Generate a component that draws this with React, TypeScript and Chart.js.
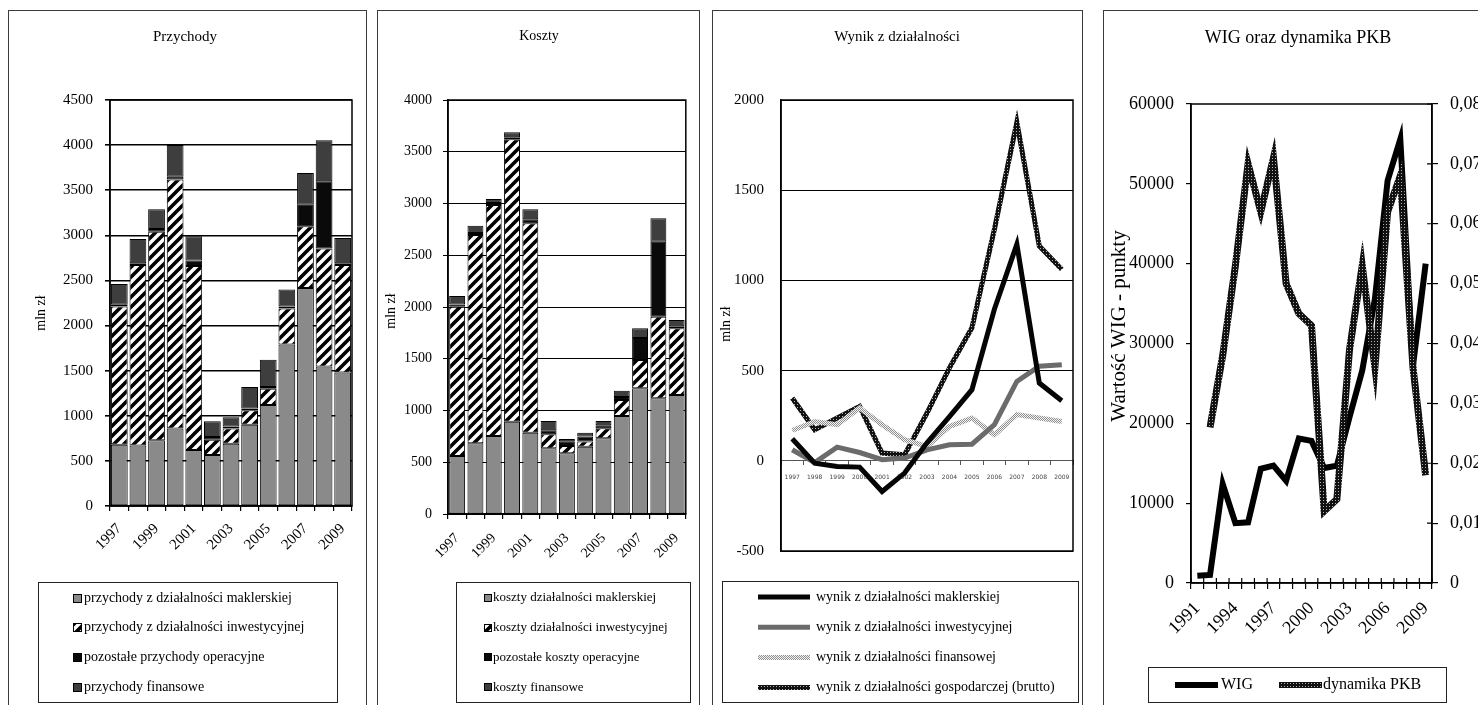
import React, { useEffect, useRef } from 'react';
import { Chart, registerables } from 'chart.js';

Chart.register(...registerables);

const SERIF = "'Liberation Serif', 'Times New Roman', Times, serif";

// Lata dla wykresów domów maklerskich
const years = ['1997', '1998', '1999', '2000', '2001', '2002', '2003', '2004', '2005', '2006', '2007', '2008', '2009'];

// Przychody (mln zł)
const przychodyMaklerska = [680, 670, 730, 860, 620, 565, 690, 900, 1120, 1790, 2415, 1545, 1480];
const przychodyInwestycyjna = [1530, 2000, 2310, 2760, 2040, 170, 170, 160, 180, 400, 685, 1310, 1190];
const przychodyPozostale = [20, 20, 30, 30, 60, 30, 20, 20, 20, 20, 240, 745, 20];
const przychodyFinansowe = [230, 270, 220, 350, 270, 175, 105, 240, 300, 190, 350, 455, 280];

// Koszty (mln zł)
const kosztyMaklerska = [560, 683, 754, 892, 786, 635, 586, 650, 731, 947, 1214, 1118, 1150];
const kosztyInwestycyjna = [1443, 2013, 2232, 2728, 2023, 135, 71, 50, 97, 154, 274, 788, 644];
const kosztyPozostale = [20, 20, 20, 20, 40, 40, 45, 50, 30, 30, 212, 725, 20];
const kosztyFinansowe = [83, 70, 37, 48, 95, 89, 23, 36, 41, 60, 94, 226, 60];

// Wynik z działalności (mln zł)
const wynikMaklerska = [122, -13, -31, -35, -170, -68, 100, 245, 394, 840, 1200, 431, 333];
const wynikInwestycyjna = [61, -10, 76, 46, 6, 15, 61, 89, 92, 200, 440, 524, 533];
const wynikFinansowa = [168, 218, 200, 293, 200, 117, 80, 191, 237, 144, 256, 237, 218];
const wynikBrutto = [348, 172, 237, 302, 43, 33, 265, 515, 737, 1283, 1876, 1191, 1061];

// WIG oraz dynamika PKB
const wigYears = ['1991', '1992', '1993', '1994', '1995', '1996', '1997', '1998', '1999', '2000', '2001', '2002', '2003', '2004', '2005', '2006', '2007', '2008', '2009'];
const wig = [900, 1000, 12400, 7500, 7600, 14300, 14700, 12800, 18100, 17800, 14400, 14700, 20800, 26600, 35600, 50400, 55600, 27200, 40000];
const pkb = [null, 0.026, 0.038, 0.053, 0.070, 0.062, 0.071, 0.050, 0.045, 0.043, 0.012, 0.014, 0.039, 0.053, 0.036, 0.062, 0.068, 0.036, 0.018];

const GRAY = '#8a8a8a';
const DARK = '#3e3e3e';
const BLACK = '#0a0a0a';

const plain = (v: any) => String(v);

function makeHatch(): CanvasPattern {
  const c = document.createElement('canvas');
  c.width = 10;
  c.height = 10;
  const g = c.getContext('2d')!;
  g.fillStyle = '#fff';
  g.fillRect(0, 0, 10, 10);
  g.strokeStyle = '#000';
  g.lineWidth = 3.6;
  g.beginPath();
  g.moveTo(-2, 12); g.lineTo(12, -2);
  g.moveTo(-7, 7); g.lineTo(7, -7);
  g.moveTo(3, 17); g.lineTo(17, 3);
  g.stroke();
  return g.createPattern(c, 'repeat')!;
}

function makeDots(base: string, dot: string, size: number): CanvasPattern {
  const c = document.createElement('canvas');
  c.width = size;
  c.height = size;
  const g = c.getContext('2d')!;
  g.fillStyle = base;
  g.fillRect(0, 0, size, size);
  g.fillStyle = dot;
  g.fillRect(1, 1, 1, 1);
  return g.createPattern(c, 'repeat')!;
}

function makeChecker(a: string, b: string): CanvasPattern {
  const c = document.createElement('canvas');
  c.width = 2;
  c.height = 2;
  const g = c.getContext('2d')!;
  g.fillStyle = b;
  g.fillRect(0, 0, 2, 2);
  g.fillStyle = a;
  g.fillRect(0, 0, 1, 1);
  g.fillRect(1, 1, 1, 1);
  return g.createPattern(c, 'repeat')!;
}

type Swatch =
  | { type: 'square'; x: number; size: number; fill: any }
  | { type: 'line'; x1: number; x2: number; width: number; stroke: any };

interface LegendRow { swatch: Swatch; text: string; tx: number; y: number }

interface DecorSpec {
  title: { text: string; x: number; y: number; size: number };
  yTitle: { text: string; x: number; y: number; size: number };
  boxWidth: number;
  legend: { x: number; y: number; w: number; h: number; size: number; rows: LegendRow[] };
  extra?: (chart: any, ctx: CanvasRenderingContext2D) => void;
}

function decor(spec: DecorSpec) {
  return {
    id: 'decor',
    afterDraw(chart: any) {
      const { ctx, width, height, chartArea: a } = chart;
      ctx.save();
      // ramka panelu
      ctx.strokeStyle = '#3c3c3c';
      ctx.lineWidth = 1;
      ctx.strokeRect(0.5, 0.5, width - 1, height - 1);
      // obramowanie obszaru wykresu
      ctx.strokeStyle = '#000';
      ctx.lineWidth = spec.boxWidth;
      ctx.strokeRect(a.left, a.top, a.right - a.left, a.bottom - a.top);
      if (spec.extra) spec.extra(chart, ctx);
      // tytuł
      ctx.fillStyle = '#000';
      ctx.textAlign = 'center';
      ctx.textBaseline = 'middle';
      ctx.font = `${spec.title.size}px ${SERIF}`;
      ctx.fillText(spec.title.text, spec.title.x, spec.title.y);
      // tytuł osi Y
      ctx.save();
      ctx.translate(spec.yTitle.x, spec.yTitle.y);
      ctx.rotate(-Math.PI / 2);
      ctx.font = `${spec.yTitle.size}px ${SERIF}`;
      ctx.fillText(spec.yTitle.text, 0, 0);
      ctx.restore();
      // legenda
      const L = spec.legend;
      ctx.strokeStyle = '#222';
      ctx.lineWidth = 1;
      ctx.strokeRect(L.x + 0.5, L.y + 0.5, L.w, L.h);
      ctx.font = `${L.size}px ${SERIF}`;
      ctx.textAlign = 'left';
      for (const r of L.rows) {
        const s = r.swatch;
        if (s.type === 'square') {
          const y0 = Math.round(r.y - s.size / 2);
          ctx.fillStyle = s.fill;
          ctx.fillRect(s.x, y0, s.size, s.size);
          ctx.strokeStyle = '#000';
          ctx.lineWidth = 1;
          ctx.strokeRect(s.x + 0.5, y0 + 0.5, s.size - 1, s.size - 1);
        } else {
          ctx.strokeStyle = s.stroke;
          ctx.lineWidth = s.width;
          ctx.lineCap = 'butt';
          ctx.beginPath();
          ctx.moveTo(s.x1, r.y);
          ctx.lineTo(s.x2, r.y);
          ctx.stroke();
        }
        ctx.fillStyle = '#000';
        ctx.fillText(r.text, r.tx, r.y);
      }
      ctx.restore();
    },
  };
}

function barDataset(label: string, data: number[], fill: any, pct: number) {
  return {
    label,
    data,
    backgroundColor: fill,
    borderColor: '#000',
    borderWidth: 1,
    borderSkipped: false,
    barPercentage: pct,
    categoryPercentage: 1,
  };
}

function stackedConfig(opts: {
  labels: string[];
  sets: any[];
  max: number;
  tickSize: number;
  gridWidth: number;
  padding: any;
  yWidth: number;
  yPad: number;
  xPad: number;
  spec: DecorSpec;
}): any {
  return {
    type: 'bar',
    data: { labels: opts.labels, datasets: opts.sets },
    options: {
      animation: false,
      responsive: false,
      maintainAspectRatio: false,
      layout: { padding: opts.padding },
      plugins: { legend: { display: false }, tooltip: { enabled: false }, title: { display: false } },
      scales: {
        x: {
          stacked: true,
          offset: true,
          grid: { display: true, drawOnChartArea: false, drawTicks: true, tickLength: 5, color: '#000', offset: true, lineWidth: 1.2 },
          border: { color: '#000', width: 1.5 },
          ticks: {
            font: { family: SERIF, size: opts.tickSize },
            color: '#000',
            autoSkip: false,
            minRotation: 45,
            maxRotation: 45,
            padding: opts.xPad,
            callback: (_v: any, i: number) => (i % 2 === 0 ? opts.labels[i] : ''),
          },
          afterFit: (s: any) => { s.height = 60; },
        },
        y: {
          stacked: true,
          min: 0,
          max: opts.max,
          ticks: { stepSize: 500, font: { family: SERIF, size: opts.tickSize }, color: '#000', padding: opts.yPad, callback: plain },
          grid: { color: '#000', lineWidth: opts.gridWidth, tickLength: 5 },
          border: { color: '#000', width: 1.5 },
          afterFit: (s: any) => { s.width = opts.yWidth; },
        },
      },
    },
    plugins: [decor(opts.spec)],
  };
}

export default function App() {
  const r1 = useRef<HTMLCanvasElement>(null);
  const r2 = useRef<HTMLCanvasElement>(null);
  const r3 = useRef<HTMLCanvasElement>(null);
  const r4 = useRef<HTMLCanvasElement>(null);

  useEffect(() => {
    const hatch = makeHatch();
    const darkDots = makeDots('#111', '#b4b4b4', 3);
    const lightDots = makeChecker('#8e8e8e', '#f4f4f4');
    const charts: Chart[] = [];

    // Przychody
    const p1Rows: LegendRow[] = [
      { text: 'przychody z działalności maklerskiej', fill: GRAY },
      { text: 'przychody z działalności inwestycyjnej', fill: hatch },
      { text: 'pozostałe przychody operacyjne', fill: BLACK },
      { text: 'przychody finansowe', fill: DARK },
    ].map((r, i) => ({ swatch: { type: 'square', x: 65, size: 9, fill: r.fill }, text: r.text, tx: 76, y: 588 + i * 29.7 }));

    charts.push(new Chart(r1.current!, stackedConfig({
      labels: years,
      sets: [
        barDataset('przychody z działalności maklerskiej', przychodyMaklerska, GRAY, 0.9),
        barDataset('przychody z działalności inwestycyjnej', przychodyInwestycyjna, hatch, 0.9),
        barDataset('pozostałe przychody operacyjne', przychodyPozostale, BLACK, 0.9),
        barDataset('przychody finansowe', przychodyFinansowe, DARK, 0.9),
      ],
      max: 4500,
      tickSize: 15,
      gridWidth: 1.6,
      padding: { top: 90, right: 15, bottom: 144, left: 0 },
      yWidth: 102,
      yPad: 12,
      xPad: 9,
      spec: {
        title: { text: 'Przychody', x: 177, y: 27, size: 15 },
        yTitle: { text: 'mln zł', x: 33, y: 303, size: 14 },
        boxWidth: 1.5,
        legend: { x: 30, y: 572, w: 299, h: 120, size: 14, rows: p1Rows },
      },
    })));

    // Koszty
    const p2Rows: LegendRow[] = [
      { text: 'koszty działalności maklerskiej', fill: GRAY },
      { text: 'koszty działalności inwestycyjnej', fill: hatch },
      { text: 'pozostałe koszty operacyjne', fill: BLACK },
      { text: 'koszty finansowe', fill: DARK },
    ].map((r, i) => ({ swatch: { type: 'square', x: 107, size: 8, fill: r.fill }, text: r.text, tx: 116, y: 588 + i * 29.7 }));

    charts.push(new Chart(r2.current!, stackedConfig({
      labels: years,
      sets: [
        barDataset('koszty działalności maklerskiej', kosztyMaklerska, GRAY, 0.87),
        barDataset('koszty działalności inwestycyjnej', kosztyInwestycyjna, hatch, 0.87),
        barDataset('pozostałe koszty operacyjne', kosztyPozostale, BLACK, 0.87),
        barDataset('koszty finansowe', kosztyFinansowe, DARK, 0.87),
      ],
      max: 4000,
      tickSize: 14,
      gridWidth: 1,
      padding: { top: 90, right: 12, bottom: 136, left: 0 },
      yWidth: 71,
      yPad: 11,
      xPad: 11,
      spec: {
        title: { text: 'Koszty', x: 162, y: 26, size: 14 },
        yTitle: { text: 'mln zł', x: 14, y: 301, size: 14 },
        boxWidth: 1.5,
        legend: { x: 79, y: 572, w: 234, h: 120, size: 13, rows: p2Rows },
      },
    })));

    // Wynik z działalności
    const p3Lines = [
      { label: 'wynik z działalności maklerskiej', data: wynikMaklerska, color: '#050505' as any },
      { label: 'wynik z działalności inwestycyjnej', data: wynikInwestycyjna, color: '#6b6b6b' as any },
      { label: 'wynik z działalności finansowej', data: wynikFinansowa, color: lightDots as any },
      { label: 'wynik z działalności gospodarczej (brutto)', data: wynikBrutto, color: darkDots as any },
    ];
    const p3Rows: LegendRow[] = p3Lines.map((l, i) => ({
      swatch: { type: 'line', x1: 46, x2: 98, width: 5, stroke: l.color },
      text: l.label,
      tx: 104,
      y: 587 + i * 30.2,
    }));

    charts.push(new Chart(r3.current!, {
      type: 'line',
      data: {
        labels: years,
        datasets: p3Lines.map((l) => ({
          label: l.label,
          data: l.data,
          borderColor: l.color,
          backgroundColor: l.color,
          borderWidth: 5,
          pointRadius: 0,
          tension: 0,
          borderJoinStyle: 'miter',
          fill: false,
        })),
      },
      options: {
        animation: false,
        responsive: false,
        maintainAspectRatio: false,
        layout: { padding: { top: 90, right: 10, bottom: 159, left: 0 } },
        plugins: { legend: { display: false }, tooltip: { enabled: false }, title: { display: false } },
        scales: {
          x: {
            position: { y: 0 },
            offset: true,
            grid: { display: true, drawOnChartArea: false, drawTicks: true, tickLength: 4, color: '#555', offset: true },
            border: { color: '#555', width: 1 },
            ticks: { font: { family: "'DejaVu Sans', sans-serif", size: 6 }, color: '#444', autoSkip: false, maxRotation: 0, minRotation: 0, padding: 9 },
          },
          y: {
            min: -500,
            max: 2000,
            ticks: { stepSize: 500, font: { family: SERIF, size: 15 }, color: '#000', padding: 17, callback: plain },
            grid: { color: '#000', lineWidth: 1, drawTicks: false },
            border: { color: '#000', width: 1.5 },
            afterFit: (s: any) => { s.width = 69; },
          },
        },
      },
      plugins: [decor({
        title: { text: 'Wynik z działalności', x: 185, y: 27, size: 15 },
        yTitle: { text: 'mln zł', x: 14, y: 314, size: 14 },
        boxWidth: 1.5,
        legend: { x: 10, y: 571, w: 356, h: 121, size: 14, rows: p3Rows },
      })],
    } as any));

    // WIG oraz dynamika PKB
    const p4Rows: LegendRow[] = [
      { swatch: { type: 'line', x1: 72, x2: 115, width: 6, stroke: '#000' }, text: 'WIG', tx: 118, y: 675 },
      { swatch: { type: 'line', x1: 176, x2: 219, width: 6, stroke: darkDots }, text: 'dynamika PKB', tx: 220, y: 675 },
    ];

    charts.push(new Chart(r4.current!, {
      type: 'line',
      data: {
        labels: wigYears,
        datasets: [
          { label: 'WIG', data: wig, yAxisID: 'y', borderColor: '#000', backgroundColor: '#000', borderWidth: 6, pointRadius: 0, tension: 0, order: 1 },
          { label: 'dynamika PKB', data: pkb, yAxisID: 'y1', borderColor: darkDots, backgroundColor: darkDots, borderWidth: 7, pointRadius: 0, tension: 0, order: 0, spanGaps: false },
        ],
      },
      options: {
        animation: false,
        responsive: false,
        maintainAspectRatio: false,
        layout: { padding: { top: 94, right: 25, bottom: 67, left: 0 } },
        plugins: { legend: { display: false }, tooltip: { enabled: false }, title: { display: false } },
        scales: {
          x: {
            offset: true,
            grid: { display: true, drawOnChartArea: false, drawTicks: true, tickLength: 6, color: '#000', offset: true, lineWidth: 1.2 },
            border: { color: '#000', width: 1.5 },
            ticks: {
              font: { family: SERIF, size: 18 },
              color: '#000',
              autoSkip: false,
              minRotation: 45,
              maxRotation: 45,
              padding: 9,
              callback: (_v: any, i: number) => (i % 3 === 0 ? wigYears[i] : ''),
            },
            afterFit: (s: any) => { s.height = 60; },
          },
          y: {
            position: 'left',
            min: 0,
            max: 60000,
            ticks: { stepSize: 10000, font: { family: SERIF, size: 18 }, color: '#000', padding: 12, callback: plain },
            grid: { drawOnChartArea: false, drawTicks: true, tickLength: 5, color: '#000', lineWidth: 1.2 },
            border: { color: '#000', width: 1.5 },
            afterFit: (s: any) => { s.width = 88; },
          },
          y1: {
            position: 'right',
            min: 0,
            max: 0.08,
            ticks: {
              stepSize: 0.01,
              font: { family: SERIF, size: 18 },
              color: '#000',
              padding: 12,
              callback: (v: number) => (Math.abs(v) < 1e-9 ? '0' : v.toFixed(2).replace('.', ',')),
            },
            grid: { drawOnChartArea: false, drawTicks: true, tickLength: 6, color: '#000', lineWidth: 1.2 },
            border: { color: '#000', width: 1.5 },
            afterFit: (s: any) => { s.width = 46; },
          },
        },
      },
      plugins: [decor({
        title: { text: 'WIG oraz dynamika PKB', x: 195, y: 28, size: 18 },
        yTitle: { text: 'Wartość WIG - punkty', x: 16, y: 316, size: 21 },
        boxWidth: 1.5,
        legend: { x: 45, y: 657, w: 298, h: 35, size: 16, rows: p4Rows },
        extra: (chart: any, ctx: CanvasRenderingContext2D) => {
          // krótkie kreski podziałki skierowane do wnętrza wykresu
          const a = chart.chartArea;
          const xs = chart.scales.x;
          const ys = chart.scales.y1;
          const half = (xs.getPixelForValue(1) - xs.getPixelForValue(0)) / 2;
          ctx.strokeStyle = '#000';
          ctx.lineWidth = 1.2;
          ctx.beginPath();
          ys.ticks.forEach((t: any) => {
            const py = ys.getPixelForValue(t.value);
            ctx.moveTo(a.right - 5, py);
            ctx.lineTo(a.right, py);
          });
          for (let i = 0; i <= wigYears.length; i++) {
            const px = xs.getPixelForValue(i) - half;
            ctx.moveTo(px, a.bottom - 5);
            ctx.lineTo(px, a.bottom);
          }
          ctx.stroke();
        },
      })],
    } as any));

    return () => charts.forEach((c) => c.destroy());
  }, []);

  return (
    <div style={{ position: 'absolute', left: 0, top: 0, width: 1478, height: 705, overflow: 'hidden', background: '#fff' }}>
      <canvas ref={r1} width={359} height={700} style={{ position: 'absolute', left: 8, top: 10 }} />
      <canvas ref={r2} width={323} height={700} style={{ position: 'absolute', left: 377, top: 10 }} />
      <canvas ref={r3} width={371} height={700} style={{ position: 'absolute', left: 712, top: 10 }} />
      <canvas ref={r4} width={400} height={700} style={{ position: 'absolute', left: 1103, top: 10 }} />
    </div>
  );
}
